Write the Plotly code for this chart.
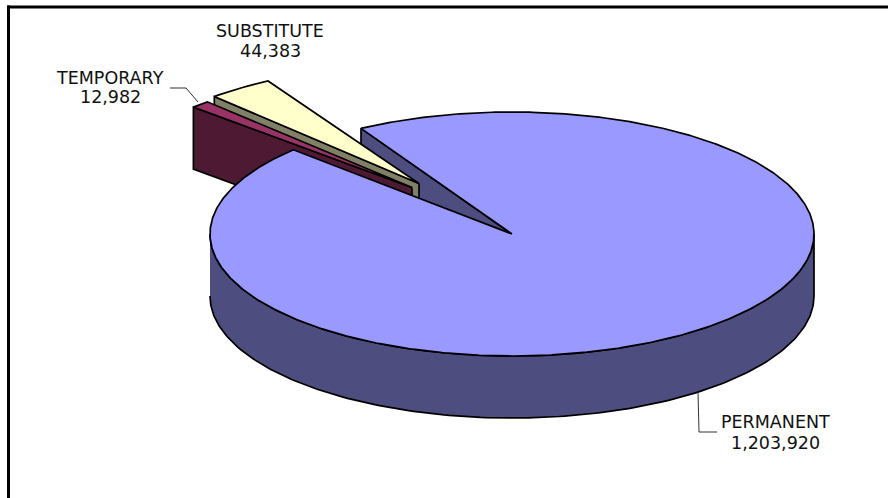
import numpy as np
import plotly.graph_objects as go

# ---- data ----
categories = ["PERMANENT", "TEMPORARY", "SUBSTITUTE"]
values = [1203920, 12982, 44383]
value_labels = ["1,203,920", "12,982", "44,383"]

# ---- style ----
top_colors = ["#9999FF", "#993366", "#FFFFCC"]
side_colors = ["#4D4D80", "#4D1933", "#808066"]
offset_x = [0.0, -100.0, -93.0]
offset_y = [0.0, -46.5, -50.5]
ry_scale = [1.0, 0.955, 0.97]
START_DEG = 120.0
CX, CY, RX, RY, DEPTH = 512.0, 234.0, 302.0, 122.0, 62.0
FONT = "DejaVu Sans"
W, H = 888, 498

total = sum(values)
spans = [v / total * 360.0 for v in values]
edges = [START_DEG]
for s in spans:
    edges.append(edges[-1] - s)

fig = go.Figure()


def poly(xs, ys, fill, name):
    fig.add_trace(go.Scatter(
        x=list(xs), y=list(ys), mode="lines", fill="toself", fillcolor=fill,
        line=dict(color="black", width=1.7), hoverinfo="skip",
        showlegend=False, name=name))


def geometry(i):
    a0, a1 = np.radians(edges[i]), np.radians(edges[i + 1])
    return a0, a1, CX + offset_x[i], CY + offset_y[i], RY * ry_scale[i]


# cut face of the big slice, seen through the notch
a0, a1, ax, ay, ry = geometry(0)
ex, ey = ax + RX * np.cos(a0), ay - ry * np.sin(a0)
poly([ax, ex, ex, ax, ax], [ay, ey, ey + DEPTH, ay + DEPTH, ay],
     side_colors[0], categories[0])

# exploded slices: substitute, then temporary
for i in (2, 1):
    a0, a1, ax, ay, ry = geometry(i)
    ex, ey = ax + RX * np.cos(a0), ay - ry * np.sin(a0)
    poly([ax, ex, ex, ax, ax], [ay, ey, ey + DEPTH, ay + DEPTH, ay],
         side_colors[i], categories[i])
    arc = np.linspace(a0, a1, 12)
    poly(np.r_[ax, ax + RX * np.cos(arc), ax],
         np.r_[ay, ay - ry * np.sin(arc), ay],
         top_colors[i], categories[i])

# big slice: rim, then top
a0, a1, ax, ay, ry = geometry(0)
rim = np.linspace(np.pi, 2 * np.pi, 181)
rx_pts = ax + RX * np.cos(rim)
ry_pts = ay - ry * np.sin(rim)
poly(np.r_[rx_pts, rx_pts[::-1]], np.r_[ry_pts + DEPTH, ry_pts[::-1]],
     side_colors[0], categories[0])
arc = np.linspace(a0, a1, 721)
poly(np.r_[ax, ax + RX * np.cos(arc), ax],
     np.r_[ay, ay - ry * np.sin(arc), ay],
     top_colors[0], categories[0])

shapes = [
    dict(type="line", x0=7, y0=7, x1=888, y1=7, line=dict(color="black", width=3)),
    dict(type="line", x0=8.5, y0=5.5, x1=8.5, y1=498, line=dict(color="black", width=3)),
    dict(type="path", path="M698 392 L699 432 L717 432", line=dict(color="#333", width=1)),
    dict(type="path", path="M170 88 L186 88 L198 102", line=dict(color="#333", width=1)),
]

label_pos = [(775, 422, 443), (110, 78, 97), (270, 31, 51)]
annotations = []
for (x, y1, y2), c, v in zip(label_pos, categories, value_labels):
    for y, t in ((y1, c), (y2, v)):
        annotations.append(dict(
            x=x, y=y, text=t, showarrow=False, xanchor="center", yanchor="middle",
            font=dict(family=FONT, size=17.5, color="#111")))

fig.update_layout(
    width=W, height=H, margin=dict(l=0, r=0, t=0, b=0),
    paper_bgcolor="white", plot_bgcolor="white", showlegend=False,
    xaxis=dict(range=[0, W], visible=False, fixedrange=True),
    yaxis=dict(range=[H, 0], visible=False, fixedrange=True),
    shapes=shapes, annotations=annotations,
)
fig.write_html(
    "out.html", config=dict(displayModeBar=False),
    post_script="document.body.style.margin='0';document.body.style.overflow='hidden';",
)
